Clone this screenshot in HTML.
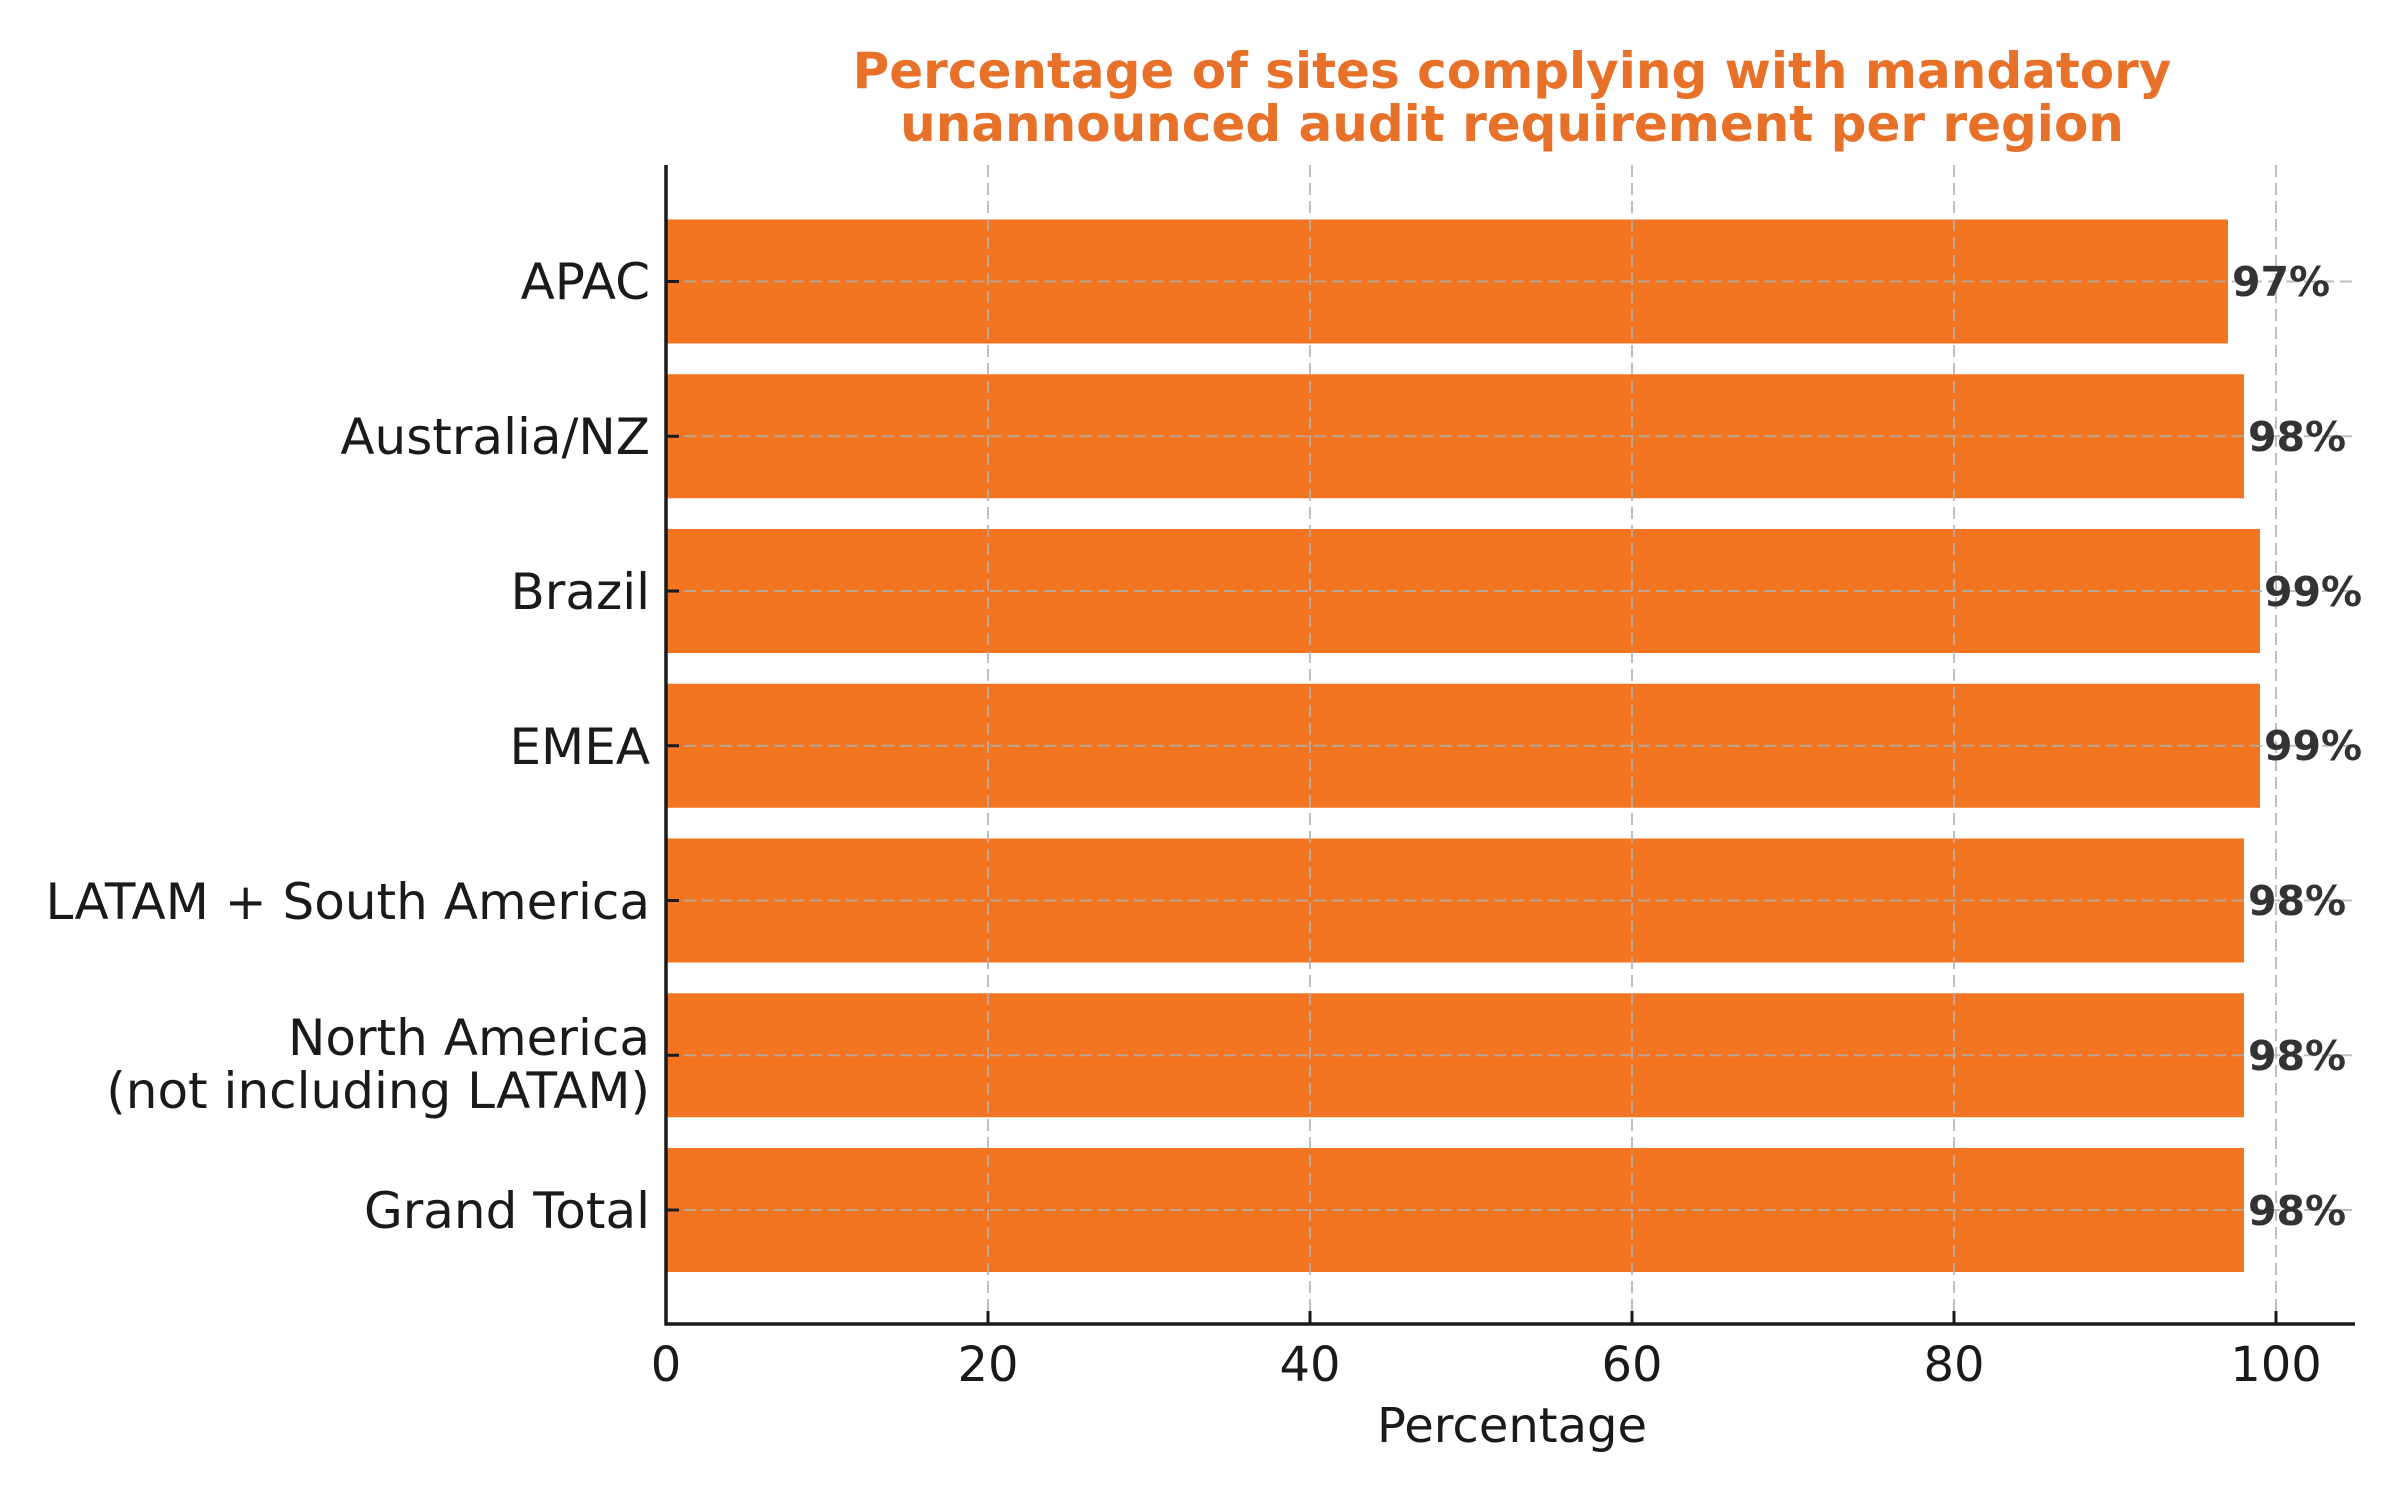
<!DOCTYPE html>
<html><head><meta charset="utf-8"><style>body{margin:0;background:#fff}svg{display:block}text{font-family:"DejaVu Sans","Liberation Sans",sans-serif}</style></head>
<body>
<svg width="2400" height="1500" viewBox="0 0 2400 1500" xmlns="http://www.w3.org/2000/svg">
<rect width="2400" height="1500" fill="#fff"/>
<g fill="#e8712a" font-weight="bold" font-size="50" text-anchor="middle">
<text x="1512" y="88">Percentage of sites complying with mandatory</text>
<text x="1512" y="141">unannounced audit requirement per region</text>
</g>
<g fill="#f37521">
<rect x="666" y="219.5" width="1562" height="124"/>
<rect x="666" y="374.25" width="1578" height="124"/>
<rect x="666" y="529" width="1594" height="124"/>
<rect x="666" y="683.75" width="1594" height="124"/>
<rect x="666" y="838.5" width="1578" height="124"/>
<rect x="666" y="993.25" width="1578" height="124"/>
<rect x="666" y="1148" width="1578" height="124"/>
</g>
<g stroke="#b0b0b0" stroke-width="2" stroke-dasharray="12,6" opacity="0.8">
<line x1="988" y1="165" x2="988" y2="1324"/>
<line x1="1310" y1="165" x2="1310" y2="1324"/>
<line x1="1632" y1="165" x2="1632" y2="1324"/>
<line x1="1954" y1="165" x2="1954" y2="1324"/>
<line x1="2276" y1="165" x2="2276" y2="1324"/>
<line x1="666" y1="281.5" x2="2355" y2="281.5"/>
<line x1="666" y1="436.25" x2="2355" y2="436.25"/>
<line x1="666" y1="591" x2="2355" y2="591"/>
<line x1="666" y1="745.75" x2="2355" y2="745.75"/>
<line x1="666" y1="900.5" x2="2355" y2="900.5"/>
<line x1="666" y1="1055.25" x2="2355" y2="1055.25"/>
<line x1="666" y1="1210" x2="2355" y2="1210"/>
</g>
<g stroke="#1a1a1a" stroke-width="3.5">
<line x1="666" y1="165" x2="666" y2="1325.5"/>
<line x1="664.5" y1="1324" x2="2355" y2="1324"/>
<g stroke-width="3">
<line x1="988" y1="1324" x2="988" y2="1311"/><line x1="1310" y1="1324" x2="1310" y2="1311"/><line x1="1632" y1="1324" x2="1632" y2="1311"/><line x1="1954" y1="1324" x2="1954" y2="1311"/><line x1="2276" y1="1324" x2="2276" y2="1311"/>
<line x1="666" y1="281.5" x2="679" y2="281.5"/><line x1="666" y1="436.25" x2="679" y2="436.25"/><line x1="666" y1="591" x2="679" y2="591"/><line x1="666" y1="745.75" x2="679" y2="745.75"/><line x1="666" y1="900.5" x2="679" y2="900.5"/><line x1="666" y1="1055.25" x2="679" y2="1055.25"/><line x1="666" y1="1210" x2="679" y2="1210"/>
</g></g>
<g fill="#1a1a1a" font-size="48" text-anchor="middle">
<text x="666" y="1381">0</text><text x="988" y="1381">20</text><text x="1310" y="1381">40</text><text x="1632" y="1381">60</text><text x="1954" y="1381">80</text><text x="2276" y="1381">100</text>
<text x="1512" y="1442">Percentage</text>
</g>
<g fill="#1a1a1a" font-size="50" text-anchor="end">
<text x="650" y="299">APAC</text>
<text x="650" y="454">Australia/NZ</text>
<text x="650" y="609">Brazil</text>
<text x="650" y="764">EMEA</text>
<text x="650" y="919">LATAM + South America</text>
<text x="650" y="1055">North America</text>
<text x="650" y="1108">(not including LATAM)</text>
<text x="650" y="1228">Grand Total</text>
</g>
<g fill="#333" font-size="41" font-weight="bold">
<text x="2232" y="296">97%</text>
<text x="2248" y="451">98%</text>
<text x="2264" y="606">99%</text>
<text x="2264" y="760">99%</text>
<text x="2248" y="915">98%</text>
<text x="2248" y="1070">98%</text>
<text x="2248" y="1225">98%</text>
</g>
</svg>
</body></html>
